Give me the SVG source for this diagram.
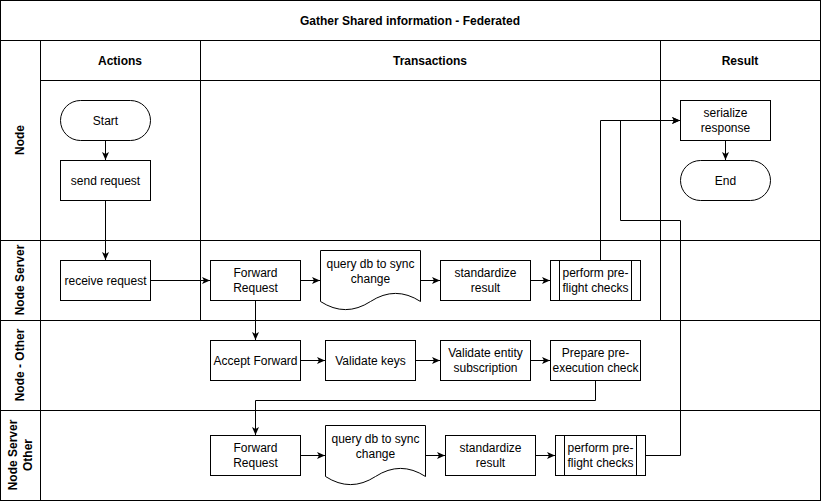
<svg xmlns="http://www.w3.org/2000/svg" width="821" height="501" viewBox="0 0 821 501">
<style>
  .ln{fill:none;stroke:#000;stroke-width:1}
  .box{fill:#fff;stroke:#000;stroke-width:1}
  .t{font-family:"Liberation Sans",Arial,Helvetica,sans-serif;font-size:12px;fill:#000;text-anchor:middle}
  .b{font-weight:bold}
  .c{fill:none;stroke:#000;stroke-width:1;marker-end:url(#arr)}
</style>
<defs>
  <marker id="arr" markerUnits="userSpaceOnUse" markerWidth="10" markerHeight="10" refX="8" refY="3.5" orient="auto">
    <path d="M0,0 L8,3.5 L0,7 L2,3.5 Z" fill="#000"/>
  </marker>
</defs>
<rect width="821" height="501" fill="#fff"/>
<g id="pool">
  <rect class="ln" x="0.5" y="0.5" width="820" height="500"/>
  <line class="ln" x1="0" y1="40.5" x2="820" y2="40.5"/>
  <line class="ln" x1="40.5" y1="40" x2="40.5" y2="500"/>
  <line class="ln" x1="40" y1="80.5" x2="820" y2="80.5"/>
  <line class="ln" x1="0" y1="240.5" x2="820" y2="240.5"/>
  <line class="ln" x1="0" y1="320.5" x2="820" y2="320.5"/>
  <line class="ln" x1="0" y1="410.5" x2="820" y2="410.5"/>
  <line class="ln" x1="200.5" y1="40" x2="200.5" y2="320"/>
  <line class="ln" x1="660.5" y1="40" x2="660.5" y2="320"/>
  <text class="t b" x="410" y="24.5">Gather Shared information - Federated</text>
  <text class="t b" x="120" y="64.5">Actions</text>
  <text class="t b" x="430" y="64.5">Transactions</text>
  <text class="t b" x="740" y="64.5">Result</text>
  <text class="t b" x="20" y="144" transform="rotate(-90 20 140)">Node</text>
  <text class="t b" x="20" y="284" transform="rotate(-90 20 280)">Node Server</text>
  <text class="t b" x="20" y="369" transform="rotate(-90 20 365)">Node - Other</text>
  <text class="t b" transform="rotate(-90 20 455)"><tspan x="20" y="451.5">Node Server</tspan><tspan x="20" y="466.5">Other</tspan></text>
</g>
<g id="connectors">
  <path class="c" d="M105.5,140 L105.5,160"/>
  <path class="c" d="M105.5,200 L105.5,260"/>
  <path class="c" d="M150,280.5 L210,280.5"/>
  <path class="c" d="M300,280.5 L320,280.5"/>
  <path class="c" d="M420,280.5 L440,280.5"/>
  <path class="c" d="M530,280.5 L550,280.5"/>
  <path class="c" d="M600.5,260 L600.5,120.5 L680,120.5"/>
  <path class="c" d="M725.5,140 L725.5,160"/>
  <path class="c" d="M255.5,300 L255.5,340"/>
  <path class="c" d="M300,360.5 L325,360.5"/>
  <path class="c" d="M415,360.5 L440,360.5"/>
  <path class="c" d="M530,360.5 L550,360.5"/>
  <path class="c" d="M595.5,380 L595.5,400.5 L255.5,400.5 L255.5,435"/>
  <path class="c" d="M300,455.5 L325,455.5"/>
  <path class="c" d="M425,455.5 L445,455.5"/>
  <path class="c" d="M535,455.5 L555,455.5"/>
  <path class="c" d="M645,455.5 L680.5,455.5 L680.5,220.5 L620.5,220.5 L620.5,120.5 L680,120.5"/>
</g>
<g id="start">
  <rect class="box" x="60.5" y="100.5" width="90" height="40" rx="20" ry="20"/>
  <text class="t" x="105.5" y="124.5">Start</text>
</g>
<g id="send-request">
  <rect class="box" x="60.5" y="160.5" width="90" height="40"/>
  <text class="t" x="105.5" y="184.5">send request</text>
</g>
<g id="receive-request">
  <rect class="box" x="60.5" y="260.5" width="90" height="40"/>
  <text class="t" x="105.5" y="284.5">receive request</text>
</g>
<g id="forward-request-1">
  <rect class="box" x="210.5" y="260.5" width="90" height="40"/>
  <text class="t"><tspan x="255.5" y="277">Forward</tspan><tspan x="255.5" y="291.5">Request</tspan></text>
</g>
<g id="query-db-1">
  <path class="box" d="M320.5,250.5 L420.5,250.5 L420.5,301.5 Q395.5,285.3 370.5,301.5 Q345.5,317.7 320.5,301.5 Z"/>
  <text class="t"><tspan x="370.5" y="268">query db to sync</tspan><tspan x="370.5" y="283">change</tspan></text>
</g>
<g id="standardize-1">
  <rect class="box" x="440.5" y="260.5" width="90" height="40"/>
  <text class="t"><tspan x="485.5" y="277">standardize</tspan><tspan x="485.5" y="291.5">result</tspan></text>
</g>
<g id="preflight-1">
  <rect class="box" x="550.5" y="260.5" width="90" height="40"/>
  <line class="ln" x1="559.5" y1="260.5" x2="559.5" y2="300.5"/>
  <line class="ln" x1="631.5" y1="260.5" x2="631.5" y2="300.5"/>
  <text class="t"><tspan x="595.5" y="277">perform pre-</tspan><tspan x="595.5" y="291.5">flight checks</tspan></text>
</g>
<g id="serialize-response">
  <rect class="box" x="680.5" y="100.5" width="90" height="40"/>
  <text class="t"><tspan x="725.5" y="117">serialize</tspan><tspan x="725.5" y="131.5">response</tspan></text>
</g>
<g id="end">
  <rect class="box" x="680.5" y="160.5" width="90" height="40" rx="20" ry="20"/>
  <text class="t" x="725.5" y="184.5">End</text>
</g>
<g id="accept-forward">
  <rect class="box" x="210.5" y="340.5" width="90" height="40"/>
  <text class="t" x="255.5" y="364.5">Accept Forward</text>
</g>
<g id="validate-keys">
  <rect class="box" x="325.5" y="340.5" width="90" height="40"/>
  <text class="t" x="370.5" y="364.5">Validate keys</text>
</g>
<g id="validate-entity">
  <rect class="box" x="440.5" y="340.5" width="90" height="40"/>
  <text class="t"><tspan x="485.5" y="357">Validate entity</tspan><tspan x="485.5" y="371.5">subscription</tspan></text>
</g>
<g id="prepare-check">
  <rect class="box" x="550.5" y="340.5" width="90" height="40"/>
  <text class="t"><tspan x="595.5" y="357">Prepare pre-</tspan><tspan x="595.5" y="371.5">execution check</tspan></text>
</g>
<g id="forward-request-2">
  <rect class="box" x="210.5" y="435.5" width="90" height="40"/>
  <text class="t"><tspan x="255.5" y="452">Forward</tspan><tspan x="255.5" y="466.5">Request</tspan></text>
</g>
<g id="query-db-2">
  <path class="box" d="M325.5,425.5 L425.5,425.5 L425.5,476.5 Q400.5,460.3 375.5,476.5 Q350.5,492.7 325.5,476.5 Z"/>
  <text class="t"><tspan x="375.5" y="443">query db to sync</tspan><tspan x="375.5" y="458">change</tspan></text>
</g>
<g id="standardize-2">
  <rect class="box" x="445.5" y="435.5" width="90" height="40"/>
  <text class="t"><tspan x="490.5" y="452">standardize</tspan><tspan x="490.5" y="466.5">result</tspan></text>
</g>
<g id="preflight-2">
  <rect class="box" x="555.5" y="435.5" width="90" height="40"/>
  <line class="ln" x1="564.5" y1="435.5" x2="564.5" y2="475.5"/>
  <line class="ln" x1="636.5" y1="435.5" x2="636.5" y2="475.5"/>
  <text class="t"><tspan x="600.5" y="452">perform pre-</tspan><tspan x="600.5" y="466.5">flight checks</tspan></text>
</g>
</svg>
